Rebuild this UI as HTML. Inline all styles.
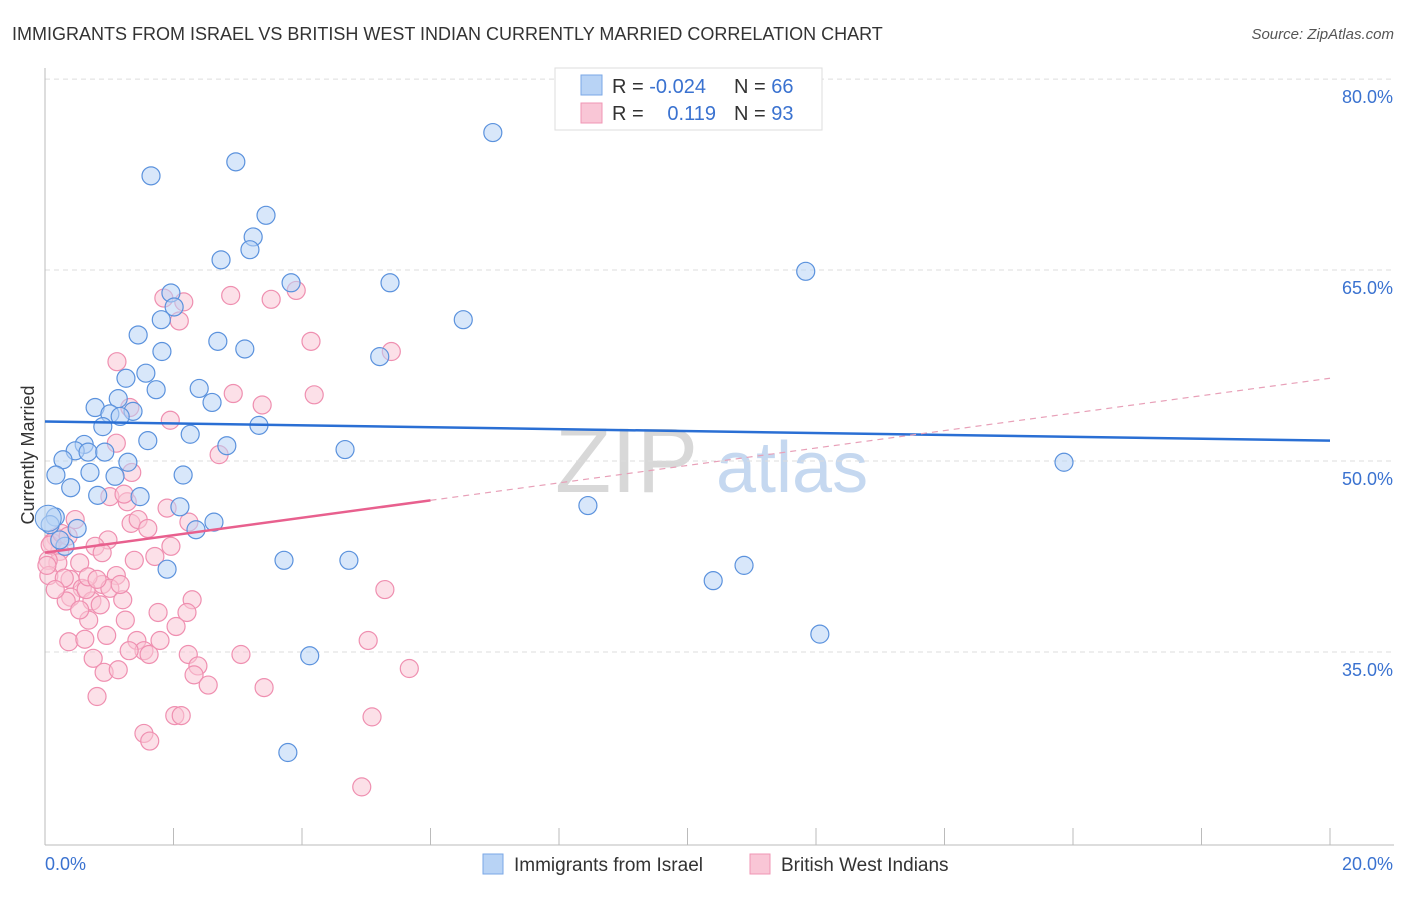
<!DOCTYPE html>
<html><head><meta charset="utf-8"><style>
body{margin:0;background:#fff;font-family:"Liberation Sans",sans-serif;}
svg text{font-family:"Liberation Sans",sans-serif;}
</style></head><body>
<svg id="chart" width="1406" height="892" xmlns="http://www.w3.org/2000/svg">
<text x="12" y="40" font-size="18" fill="#333">IMMIGRANTS FROM ISRAEL VS BRITISH WEST INDIAN CURRENTLY MARRIED CORRELATION CHART</text>
<text x="1394" y="39" font-size="15" fill="#555" text-anchor="end" font-style="italic">Source: ZipAtlas.com</text>
<text x="555" y="492" font-size="92" fill="#d8d8d8" font-family="Liberation Serif">ZIP</text>
<text x="716" y="492" font-size="72" fill="#c5d8f0">atlas</text>
<g id="grid"></g>
<g id="axes"></g>
<g id="pts"></g>
<g id="trend"></g>
<text x="34" y="455" font-size="18" fill="#333" text-anchor="middle" transform="rotate(-90 34 455)">Currently Married</text>
<g>
<rect x="555" y="68" width="267" height="62" fill="#fff" stroke="#ddd"/>
<rect x="581" y="75" width="21" height="20" fill="#b8d3f5" stroke="#7aa7e6"/>
<rect x="581" y="103" width="21" height="20" fill="#f9c6d6" stroke="#f096b4"/>
<text x="612" y="93" font-size="20" fill="#333">R = <tspan fill="#3a72d0">-0.024</tspan></text>
<text x="734" y="93" font-size="20" fill="#333">N = <tspan fill="#3a72d0">66</tspan></text>
<text x="612" y="120" font-size="20" fill="#333">R = </text>
<text x="716" y="120" font-size="20" fill="#3a72d0" text-anchor="end">0.119</text>
<text x="734" y="120" font-size="20" fill="#333">N = <tspan fill="#3a72d0">93</tspan></text>
</g>
<g>
<rect x="483" y="854" width="20" height="20" fill="#b8d3f5" stroke="#7aa7e6"/>
<text x="514" y="871" font-size="19" fill="#333">Immigrants from Israel</text>
<rect x="750" y="854" width="20" height="20" fill="#f9c6d6" stroke="#f096b4"/>
<text x="781" y="871" font-size="19" fill="#333">British West Indians</text>
</g>
</svg>
<script>
const xTicks=[0,20];
const yTicks=[35,50,65,80];
const blueX=[6.97,1.65,2.97,3.44,3.24,3.19,2.74,3.83,5.37,11.84,1.96,2.01,1.81,6.51,1.45,2.69,3.11,1.82,5.21,1.57,1.26,1.73,2.40,2.60,1.14,0.78,1.01,1.37,1.17,3.33,0.90,2.26,1.60,0.61,0.47,0.67,0.93,2.83,4.67,0.28,15.86,1.29,0.70,2.15,1.09,0.17,0.40,1.48,0.82,2.10,8.45,2.63,2.35,0.50,0.16,0.08,0.31,1.90,3.72,4.73,10.40,10.88,12.06,4.12,3.78,0.23];
const blueY=[75.8,72.4,73.5,69.3,67.6,66.6,65.8,64.0,64.0,64.9,63.2,62.1,61.1,61.1,59.9,59.4,58.8,58.6,58.2,56.9,56.5,55.6,55.7,54.6,54.9,54.2,53.7,53.9,53.5,52.8,52.7,52.1,51.6,51.3,50.8,50.7,50.7,51.2,50.9,50.1,49.9,49.9,49.1,48.9,48.8,48.9,47.9,47.2,47.3,46.4,46.5,45.2,44.6,44.7,45.6,45.0,43.3,41.5,42.2,42.2,40.6,41.8,36.4,34.7,27.1,43.8];
const pinkX=[1.85,2.16,2.09,2.89,3.52,3.91,4.14,5.39,1.12,2.93,3.38,4.19,1.32,1.95,1.11,2.71,1.35,1.01,1.28,1.23,1.90,2.24,1.34,1.45,1.60,0.47,0.98,0.23,0.78,0.20,0.05,0.89,0.06,0.39,1.11,1.71,1.96,0.54,0.89,0.58,1.01,0.40,0.73,0.64,0.33,1.21,2.29,2.21,1.25,0.68,2.04,5.29,0.37,0.62,0.96,1.43,1.54,1.31,1.62,2.23,2.38,2.32,2.54,3.05,5.03,0.75,0.92,1.14,3.41,5.67,0.81,2.02,2.12,5.09,1.54,1.63,4.93,0.17,0.11,0.08,0.26,0.03,0.36,0.30,0.67,0.86,1.76,0.81,0.16,1.39,0.54,1.17,1.79];
const pinkY=[62.8,62.5,61.0,63.0,62.7,63.4,59.4,58.6,57.8,55.3,54.4,55.2,54.2,53.2,51.4,50.5,49.1,47.2,46.8,47.4,46.3,45.2,45.1,45.4,44.7,45.4,43.8,42.9,43.3,42.0,42.2,42.8,41.0,40.7,41.0,42.5,43.3,42.0,40.3,40.0,40.0,39.3,39.0,39.9,39.0,39.1,39.1,38.1,37.5,37.5,37.0,39.9,35.8,36.0,36.3,35.9,35.1,35.1,34.8,34.8,33.9,33.2,32.4,34.8,35.9,34.5,33.4,33.6,32.2,33.7,31.5,30.0,30.0,29.9,28.6,28.0,24.4,44.0,43.6,43.4,44.3,41.8,44.1,40.8,40.9,38.7,38.1,40.7,39.9,42.2,38.3,40.3,35.9];
const blueTrend=[53.1,51.6];
const pinkTrend=[42.8,56.5];
const pinkSolidEnd=6;
const NS="http://www.w3.org/2000/svg";
const X0=45,X1=1330,YB=461,YS=12.73;
function xs(v){return X0+(v-xTicks[0])/(xTicks[1]-xTicks[0])*(X1-X0);}
function ys(v){return YB-(v-50)*YS;}
function mk(tag,attrs,parent){const e=document.createElementNS(NS,tag);for(const k in attrs)e.setAttribute(k,attrs[k]);parent.appendChild(e);return e;}
const grid=document.getElementById('grid'),axes=document.getElementById('axes'),pts=document.getElementById('pts'),trend=document.getElementById('trend');
yTicks.forEach(t=>{
 const l=mk('line',{x1:X0,x2:1394,y1:ys(t),y2:ys(t),stroke:'#ddd','stroke-dasharray':'5,4'},grid);
 
 
 const tx=mk('text',{x:1393,y:ys(t)+24,'font-size':18,fill:'#3a72d0','text-anchor':'end'},axes);
 tx.textContent=t.toFixed(1)+'%';
 
 
});
const la=mk('line',{x1:X0,x2:X0,y1:68,y2:845,stroke:'#bbb'},axes);


const lb=mk('line',{x1:X0,x2:1394,y1:845,y2:845,stroke:'#bbb'},axes);


for(let i=0;i<=10;i++){
 const tk=mk('line',{x1:xs(i*2),x2:xs(i*2),y1:828,y2:845,stroke:'#bbb'},axes);
 
 
}
xTicks.forEach((t,i)=>{
 const tx=mk('text',{x:i?1393:45,y:870,'font-size':18,fill:'#3a72d0','text-anchor':i?'end':'start'},axes);
 tx.textContent=t.toFixed(1)+'%';
 
 
});
function dots(X,Y,fill,stroke,name){
 X.forEach((x,i)=>{
  const c=mk('circle',{cx:xs(x),cy:ys(Y[i]),r:9,fill:fill,'fill-opacity':0.55,stroke:stroke,'stroke-width':1.2},pts);
  
  
 });
}
dots(pinkX,pinkY,'#f9c6d6','#ef8fb0','point-british-west-indian');
dots(blueX,blueY,'#b8d3f5','#5b92dd','point-israel');
const big=mk('circle',{cx:xs(0.05),cy:ys(45.5),r:13,fill:'#b8d3f5','fill-opacity':0.6,stroke:'#5b92dd'},pts);


const bt=mk('line',{x1:xs(0),x2:xs(20),y1:ys(blueTrend[0]),y2:ys(blueTrend[1]),stroke:'#2a6fd4','stroke-width':2.5},trend);


const pAt=v=>pinkTrend[0]+(pinkTrend[1]-pinkTrend[0])*v/20;
const pt=mk('line',{x1:xs(0),x2:xs(pinkSolidEnd),y1:ys(pAt(0)),y2:ys(pAt(pinkSolidEnd)),stroke:'#e8608e','stroke-width':2.5},trend);


const pd=mk('line',{x1:xs(pinkSolidEnd),x2:xs(20),y1:ys(pAt(pinkSolidEnd)),y2:ys(pAt(20)),stroke:'#e8a0b8','stroke-width':1.2,'stroke-dasharray':'6,5'},trend);


</script>
</body></html>
